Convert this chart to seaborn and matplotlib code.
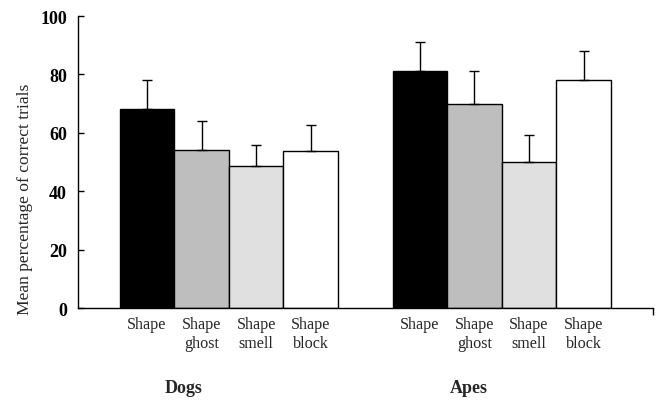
import numpy as np
import pandas as pd
import matplotlib
matplotlib.use("Agg")
import matplotlib.pyplot as plt
import seaborn as sns

# Data: mean percentage of correct trials (+ upper error) per condition
groups = ["Dogs", "Apes"]
conditions = ["Shape", "Shape\nghost", "Shape\nsmell", "Shape\nblock"]
dogs_means = [68.3, 54.0, 48.5, 53.9]
dogs_errs = [9.8, 10.1, 7.4, 8.9]
apes_means = [81.3, 69.8, 50.0, 78.2]
apes_errs = [9.7, 11.5, 9.1, 9.9]
bar_colors = ["#000000", "#bebebe", "#e0e0e0", "#ffffff"]

sns.set_theme(style="white")
plt.rcParams["font.family"] = ["Liberation Serif", "DejaVu Serif"]

# Bars sit at integer positions; one empty slot separates the two groups
positions = [0, 1, 2, 3, 5, 6, 7, 8]
df = pd.DataFrame({
    "pos": positions,
    "group": np.repeat(groups, len(conditions)),
    "condition": conditions * len(groups),
    "mean": dogs_means + apes_means,
    "err": dogs_errs + apes_errs,
})

fig = plt.figure(figsize=(6.57, 4.02), dpi=100)
ax = fig.add_axes([0.1187, 0.2313, 0.875, 0.7264])

sns.barplot(
    data=df, x="pos", y="mean", hue="condition", palette=bar_colors,
    hue_order=conditions, native_scale=True, dodge=False, width=1.0,
    edgecolor="black", linewidth=1.0, errorbar=None, legend=False, ax=ax,
)

# Upward-only error bars with small caps
ax.errorbar(
    df["pos"], df["mean"], yerr=[np.zeros(len(df)), df["err"]],
    fmt="none", ecolor="black", elinewidth=1.0, capsize=3.5, capthick=1.0,
)

xmin, xmax = -1.264, 9.27
ax.set_xlim(xmin, xmax)
ax.set_ylim(0, 100)
ax.set_yticks([0, 20, 40, 60, 80, 100])
ax.set_yticklabels([str(v) for v in [0, 20, 40, 60, 80, 100]],
                   fontweight="bold", fontsize=13)
ax.set_xticks(positions)
ax.set_xticklabels(df["condition"], fontsize=11.6, linespacing=1.2,
                   va="top")
ax.tick_params(axis="x", which="major", length=0, pad=6)
ax.tick_params(axis="y", direction="in", length=4, width=1.0, pad=8,
               left=True, colors="black")
ax.set_xticks([xmax], minor=True)
ax.tick_params(axis="x", which="minor", direction="out", length=5,
               width=1.0, bottom=True, colors="black")
ax.set_xlabel("")
ax.set_ylabel("")

for side in ["top", "right"]:
    ax.spines[side].set_visible(False)
for side in ["left", "bottom"]:
    ax.spines[side].set_color("black")
    ax.spines[side].set_linewidth(1.0)

fig.text(25 / 657, 1 - 199 / 402, "Mean percentage of correct trials",
         rotation=90, ha="center", va="center", fontsize=12.6)
fig.text(184 / 657, 1 - 389 / 402, groups[0], ha="center", va="center",
         fontsize=13, fontweight="bold")
fig.text(469 / 657, 1 - 389 / 402, groups[1], ha="center", va="center",
         fontsize=13, fontweight="bold")

fig.savefig("out.png", dpi=100)
